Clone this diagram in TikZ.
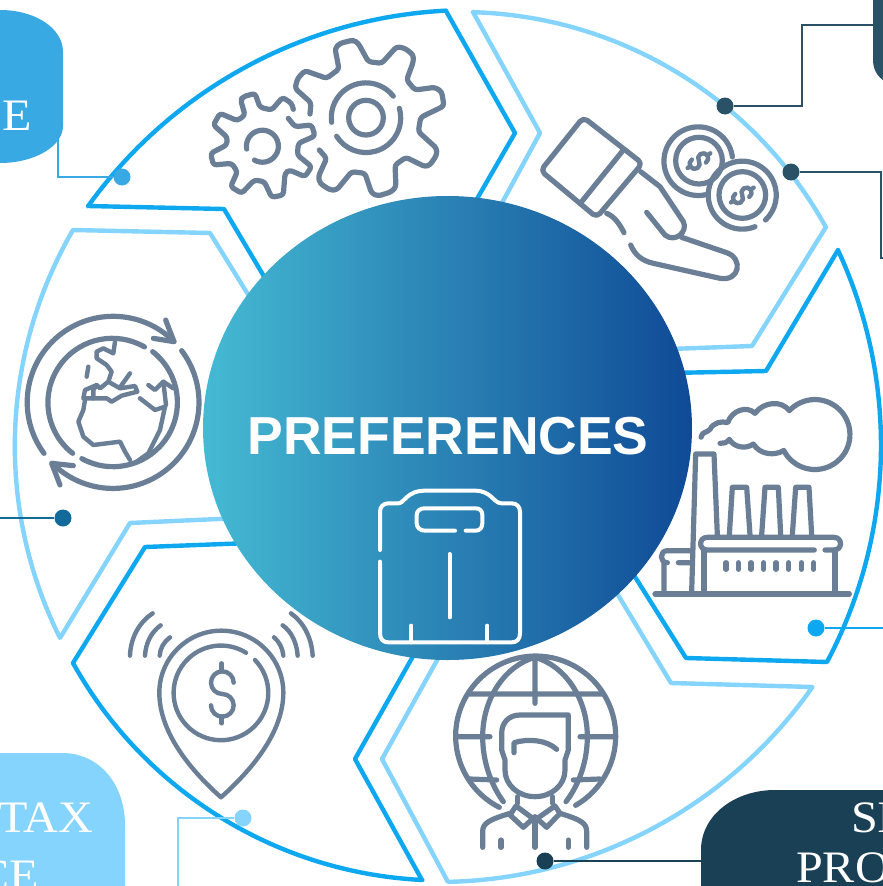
\documentclass[tikz,border=0pt]{standalone}
\usepackage{fontspec}
\setmainfont{Liberation Serif}
\newfontfamily\hubfont{Liberation Sans}
\newfontfamily\boxfont[FakeStretch=1.07]{Liberation Serif}
\usetikzlibrary{shapes.geometric}
\definecolor{blueseg}{HTML}{0EA8F0}
\definecolor{lightseg}{HTML}{84D4FD}
\definecolor{iconc}{HTML}{6A7F96}
\definecolor{boxa}{HTML}{38A9E3}
\definecolor{boxb}{HTML}{2A5266}
\definecolor{boxc}{HTML}{1A4056}
\definecolor{dotl}{HTML}{116A9A}
\definecolor{hubl}{HTML}{45BAD3}
\definecolor{hubr}{HTML}{0F4A96}
\tikzset{
  segblue/.style={draw=blueseg,line width=4.4pt,line join=round},
  seglight/.style={draw=lightseg,line width=4.4pt,line join=round},
  ico/.style={draw=iconc,line width=5.2pt,line cap=round,line join=round},
  icothin/.style={draw=iconc,line width=4.4pt,line cap=round,line join=round},
  whiteico/.style={draw=white,line width=4pt,line cap=round,line join=round},
  dotnode/.style={circle,inner sep=0pt,minimum size=17pt},
  wire/.style={line width=1.5pt},
  boxtext/.style={text=white,font=\boxfont\fontsize{45}{45}\selectfont,inner sep=0pt},
  zoomed/.style={x=0.33333pt,y=-0.33333pt},
  dollarpic/.pic={
    \draw[pic actions] (36,-32) arc[start angle=0,end angle=-270,radius=34] arc[start angle=-90,end angle=180,radius=34];
    \draw[pic actions] (0,-90)--(0,-66) (0,70)--(0,90);
  }
}
\begin{document}
\begin{tikzpicture}[x=1pt,y=-1pt]
\useasboundingbox (0,0) rectangle (883,886);
\clip (0,0) rectangle (883,886);
\fill[white] (0,0) rectangle (883,886);

% label boxes
\fill[boxa] (-5,10) -- (0,10) .. controls (35,10) and (63,28) .. (63,52) -- (63,126) .. controls (63,146) and (35,163) .. (0,163) -- (-5,163) -- cycle;
\fill[boxb] (873,-5) -- (873,60) .. controls (873,72) and (880,80) .. (890,84) -- (890,-5) -- cycle;
\fill[boxc] (701,890) -- (701,850) .. controls (701,815) and (735,790) .. (775,790) -- (890,790) -- (890,890) -- cycle;
\fill[lightseg] (-5,753) -- (62,753) .. controls (100,753) and (125,785) .. (125,825) -- (125,890) -- (-5,890) -- cycle;

\node[boxtext,anchor=base west] (labelA) at (2,130) {E};
\node[boxtext,anchor=base west] (labelB) at (-2,832) {TAX};
\node[boxtext,anchor=base east] (labelB2) at (39,890) {CE};
\node[boxtext,anchor=base west] (labelC) at (851,832) {SI};
\node[boxtext,anchor=base west] (labelC2) at (796,882) {PRO};

% segments
\path[segblue] (88,206) -- plot[domain=215.6:267.1,samples=50,variable=\t] ({470+470*cos(\t)},{480+470*sin(\t)}) -- (446,11) -- (515,133) -- (470,211) -- (275,295) -- (224,209) -- cycle;
\path[seglight] (473,12) -- plot[domain=271.6:331,samples=50,variable=\t] ({461+417*cos(\t)},{429+417*sin(\t)}) -- (826,227) -- (752,346) -- (670,349) -- (490,225) -- (540,133) -- cycle;
\path[segblue] (838,250) -- plot[domain=-24.9:27.9,samples=50,variable=\t] ({418+463*cos(\t)},{445+463*sin(\t)}) -- (827,662) -- (686,658) -- (620,553) -- (670,373) -- (766,371) -- cycle;
\path[seglight] (448,882) -- plot[domain=88.7:35,samples=50,variable=\t] ({438+457*cos(\t)},{425+457*sin(\t)}) -- (812,687) -- (671,683) -- (600,565) -- (450,637) -- (382,759) -- cycle;
\path[segblue] (422,880) -- plot[domain=92.8:150.9,samples=50,variable=\t] ({443+423.5*cos(\t)},{457+423.5*sin(\t)}) -- (73,663) -- (145,547) -- (250,543) -- (425,635) -- (355,759) -- cycle;
\path[seglight] (60,638) -- plot[domain=153.5:210.1,samples=50,variable=\t] ({445+430.2*cos(\t)},{446+430.2*sin(\t)}) -- (73,230) -- (210,233) -- (262,317) -- (240,518) -- (130,523) -- cycle;

% connectors and dots
\node[dotnode,fill=boxa] (dotA) at (122,177) {};
\node[dotnode,fill=boxb] (dotB) at (725,106) {};
\node[dotnode,fill=boxb] (dotC) at (791,172) {};
\node[dotnode,fill=blueseg] (dotD) at (816,628) {};
\node[dotnode,fill=boxc] (dotE) at (545,861) {};
\node[dotnode,fill=lightseg] (dotF) at (243,818) {};
\node[dotnode,fill=dotl] (dotG) at (63,518) {};
\coordinate (boxA) at (58,135);
\coordinate (boxBa) at (802,25);
\coordinate (boxBb) at (873,25);
\coordinate (boxCa) at (881,258);
\coordinate (boxCb) at (884,258);
\coordinate (boxD) at (884,628);
\coordinate (boxE) at (701,861);
\coordinate (boxF) at (178,888);
\coordinate (boxG) at (-2,518);
\draw[wire,boxa] (dotA) -| (boxA);
\draw[wire,boxb] (dotB) -| (boxBa) -- (boxBb);
\draw[wire,boxb] (dotC) -| (boxCa) -- (boxCb);
\draw[wire,blueseg] (dotD) -- (boxD);
\draw[wire,boxc] (dotE) -- (boxE);
\draw[wire,lightseg] (dotF) -| (boxF);
\draw[wire,dotl] (dotG) -- (boxG);

% hub
\node[ellipse,inner sep=0pt,minimum width=489pt,minimum height=464pt,left color=hubl,right color=hubr] (hub) at (447.5,428) {};
\node[text=white,font=\hubfont\bfseries\fontsize{53.5}{53.5}\selectfont,inner sep=0pt,anchor=base] (hubtext) at (448,454) {PREFERENCES};

% scale icon
\begin{scope}[shift={(365,480)},zoomed]
\draw[whiteico] (45,210) -- (45,95) .. controls (45,80) and (55,70) .. (70,70) -- (100,70) .. controls (118,70) and (125,32) .. (180,32) -- (330,32) .. controls (380,32) and (385,70) .. (410,70) -- (440,70) .. controls (455,70) and (465,80) .. (465,95) -- (465,460) .. controls (465,478) and (455,487) .. (440,487) -- (70,487) .. controls (55,487) and (45,478) .. (45,460) -- (45,245);
\draw[whiteico] (270,152) -- (180,152) .. controls (165,152) and (155,142) .. (155,130) -- (155,105) .. controls (155,93) and (165,85) .. (178,85) -- (332,85) .. controls (345,85) and (352,93) .. (352,105) -- (352,130) .. controls (352,142) and (345,152) .. (332,152) -- (302,152);
\draw[whiteico] (254,222) -- (254,412) (139,437) -- (139,487) (367,437) -- (367,487);
\end{scope}

% gears
\begin{scope}[zoomed]
\draw[ico,rounded corners=3pt] (930,342) -- (933,308) -- (885,265) -- (893,235) -- (915,212) -- (980,235) -- (1017,207) -- (1005,145) -- (1020,130) -- (1060,120) -- (1075,130) -- (1105,185) -- (1145,190) -- (1190,140) -- (1215,145) -- (1240,165) -- (1240,185) -- (1220,240) -- (1245,270) -- (1305,262) -- (1325,275) -- (1332,318) -- (1262,352) -- (1255,395) -- (1310,445) -- (1310,465) -- (1290,495) -- (1275,500) -- (1218,472) -- (1185,495) -- (1188,560) -- (1175,575) -- (1135,588) -- (1115,580) -- (1095,520) -- (1055,515) -- (1010,570) -- (990,570) -- (960,550) -- (955,530) -- (980,475) -- (958,450);
\draw[ico,rounded corners=3pt] (880,328) -- (875,310) -- (848,292) -- (815,330) -- (780,322) -- (765,280) -- (730,290) -- (722,300) -- (735,345) -- (712,362) -- (660,340) -- (640,375) -- (682,412) -- (680,435) -- (632,460) -- (640,495) -- (695,490) -- (712,515) -- (692,560) -- (725,580) -- (763,540) -- (793,545) -- (815,592) -- (850,585) -- (855,520) -- (868,510) -- (915,530) -- (935,500) -- (892,465) -- (895,430) -- (945,408) -- (935,375) -- (885,380) -- (865,355);
\draw[ico] (1098,353) circle[radius=52];
\draw[ico] (995,367) arc[start angle=172,end angle=322,radius=104];
\draw[ico] (1198,325) arc[start angle=344,end angle=508,radius=104];
\draw[ico] (740,447) arc[start angle=170,end angle=480,radius=48];
\end{scope}

% hand and coins
\begin{scope}[shift={(450,0)},zoomed]
\draw[ico,rounded corners=5pt] (400,352) -- (272,512) -- (440,652) -- (577,490) -- cycle;
\draw[ico] (520,450) -- (395,605);
\draw[ico] (572,515) -- (630,560) -- (700,665) .. controls (715,695) and (675,730) .. (645,705) -- (590,637);
\draw[ico] (695,712) -- (830,758) .. controls (880,775) and (870,845) .. (810,835) -- (610,790) .. controls (575,782) and (555,765) .. (542,735);
\draw[ico] (470,640) .. controls (495,650) and (510,675) .. (522,698);
\draw[ico] (775,582) arc[start angle=73,end angle=353,radius=103];
\draw[ico] (747,482) circle[radius=70];
\draw[ico] (915,680) arc[start angle=68,end angle=407,radius=102];
\draw[ico] (877,585) circle[radius=70];
\pic[rotate=-57,scale=.45,icothin] at (747,482) {dollarpic};
\pic[rotate=-57,scale=.45,icothin] at (877,585) {dollarpic};
\end{scope}

% factory
\begin{scope}[shift={(630,380)},zoomed]
\draw[ico] (185,635) -- (197,222) -- (252,222) -- (262,465);
\draw[ico] (298,465) -- (307,322) -- (350,322) -- (360,465);
\draw[ico] (395,465) -- (405,322) -- (445,322) -- (452,465);
\draw[ico] (487,465) -- (497,322) -- (537,322) -- (545,465);
\draw[ico] (553,510) -- (232,510) .. controls (205,510) and (205,472) .. (232,472) -- (612,472) .. controls (638,472) and (638,510) .. (612,510) -- (585,510);
\draw[ico] (222,510) -- (222,640) (615,510) -- (615,640) (75,642) -- (658,642);
\draw[ico] (180,512) -- (112,512) .. controls (88,512) and (88,548) .. (112,548) (145,548) -- (185,548) (102,550) -- (102,640);
\foreach \wx in {288,325,363,401,438,476,514,551}{\draw[ico] (\wx,548) -- (\wx,568);}
\draw[ico] (213,172) .. controls (215,155) and (232,158) .. (240,148) .. controls (250,128) and (275,122) .. (293,128) .. controls (305,92) and (350,75) .. (375,100) .. controls (400,65) and (455,60) .. (478,92) arc[start angle=223,end angle=513,radius=105] .. controls (435,228) and (390,225) .. (370,192) .. controls (345,210) and (310,200) .. (298,178) .. controls (290,188) and (280,192) .. (270,190);
\end{scope}

% earth
\begin{scope}[shift={(0,290)},zoomed]
\draw[ico] (132,490) arc[start angle=143.6,end angle=315,radius=258];
\draw[ico] (497,90) -- (522,155) -- (460,145);
\draw[ico] (545,182) arc[start angle=323,end angle=495,radius=258];
\draw[ico] (220,527) -- (155,520) -- (180,585);
\draw[ico] (218,490) arc[start angle=128,end angle=300,radius=193];
\draw[ico] (458,185) arc[start angle=308,end angle=479,radius=193];
\end{scope}
\begin{scope}[shift={(60,330)},zoomed]
\draw[icothin] (165,35) -- (160,70) -- (130,55) -- (110,65) -- (110,85) -- (140,105) -- (155,125) -- (145,155) -- (120,175) -- (110,165) -- (75,180) -- (70,205) -- (100,205) -- (100,180) -- (110,165);
\draw[icothin] (145,155) -- (180,175) -- (225,168) -- (232,185) -- (185,197) -- (155,215) -- (140,205) -- (100,205);
\draw[icothin] (210,130) -- (180,172);
\draw[icothin] (85,110) -- (80,140);
\draw[icothin] (75,210) -- (70,240) -- (55,275) -- (70,320) -- (100,345) -- (180,335) -- (195,365) -- (210,390);
\draw[icothin] (240,205) -- (285,240) -- (315,230) -- (300,300) -- (265,370) -- (230,395);
\draw[icothin] (265,165) -- (285,180) -- (310,155) -- (340,175);
\draw[icothin] (310,155) -- (318,225);
\end{scope}

% pin
\begin{scope}[shift={(0,600)},zoomed]
\draw[icothin] (663,592) .. controls (560,500) and (478,390) .. (478,278) arc[start angle=180,end angle=360,radius=186] .. controls (850,390) and (766,500) .. (663,592);
\draw[icothin] (765,180) arc[start angle=316,end angle=662,radius=142];
\pic[scale=1,icothin] at (665,280) {dollarpic};
\draw[icothin] (390,167) .. controls (392,110) and (420,65) .. (458,40);
\draw[icothin] (435,167) .. controls (437,128) and (455,95) .. (482,76);
\draw[icothin] (479,167) .. controls (480,145) and (492,125) .. (510,112);
\draw[icothin] (938,167) .. controls (935,110) and (908,65) .. (873,40);
\draw[icothin] (893,167) .. controls (890,128) and (875,95) .. (848,76);
\draw[icothin] (850,167) .. controls (848,145) and (838,125) .. (822,112);
\end{scope}

% globe person
\begin{scope}[shift={(440,600)},zoomed]
\draw[ico] (178,622) arc[start angle=117,end angle=420,radius=240];
\draw[ico] (190,605) .. controls (150,550) and (128,480) .. (128,410) .. controls (128,290) and (200,195) .. (285,172);
\draw[ico] (378,605) .. controls (420,550) and (442,480) .. (442,410) .. controls (442,290) and (370,195) .. (285,172);
\draw[ico] (285,172) -- (285,310) (85,282) -- (485,282) (48,410) -- (150,410) (420,410) -- (522,410) (90,537) -- (170,540) (400,540) -- (480,537);
\draw[ico] (385,345) -- (240,345) .. controls (205,345) and (185,370) .. (185,400) -- (185,450) -- (195,480) -- (195,510) .. controls (195,555) and (235,590) .. (285,590) .. controls (335,590) and (375,555) .. (375,510) -- (375,480) -- (385,450) -- cycle;
\draw[ico] (222,458) -- (222,428) .. controls (265,415) and (320,420) .. (350,448);
\draw[ico] (232,590) -- (232,610) (338,590) -- (338,610);
\draw[ico] (228,618) -- (285,660) -- (345,618) -- (360,640) -- (320,682) -- (285,650) -- (250,682) -- (210,645) -- cycle;
\draw[ico] (128,742) -- (128,695) .. controls (128,670) and (145,660) .. (210,640);
\draw[ico] (440,742) -- (440,695) .. controls (440,670) and (425,660) .. (360,640);
\draw[ico] (285,660) -- (285,742) (183,720) -- (183,742) (385,720) -- (385,742);
\end{scope}
\end{tikzpicture}
\end{document}
